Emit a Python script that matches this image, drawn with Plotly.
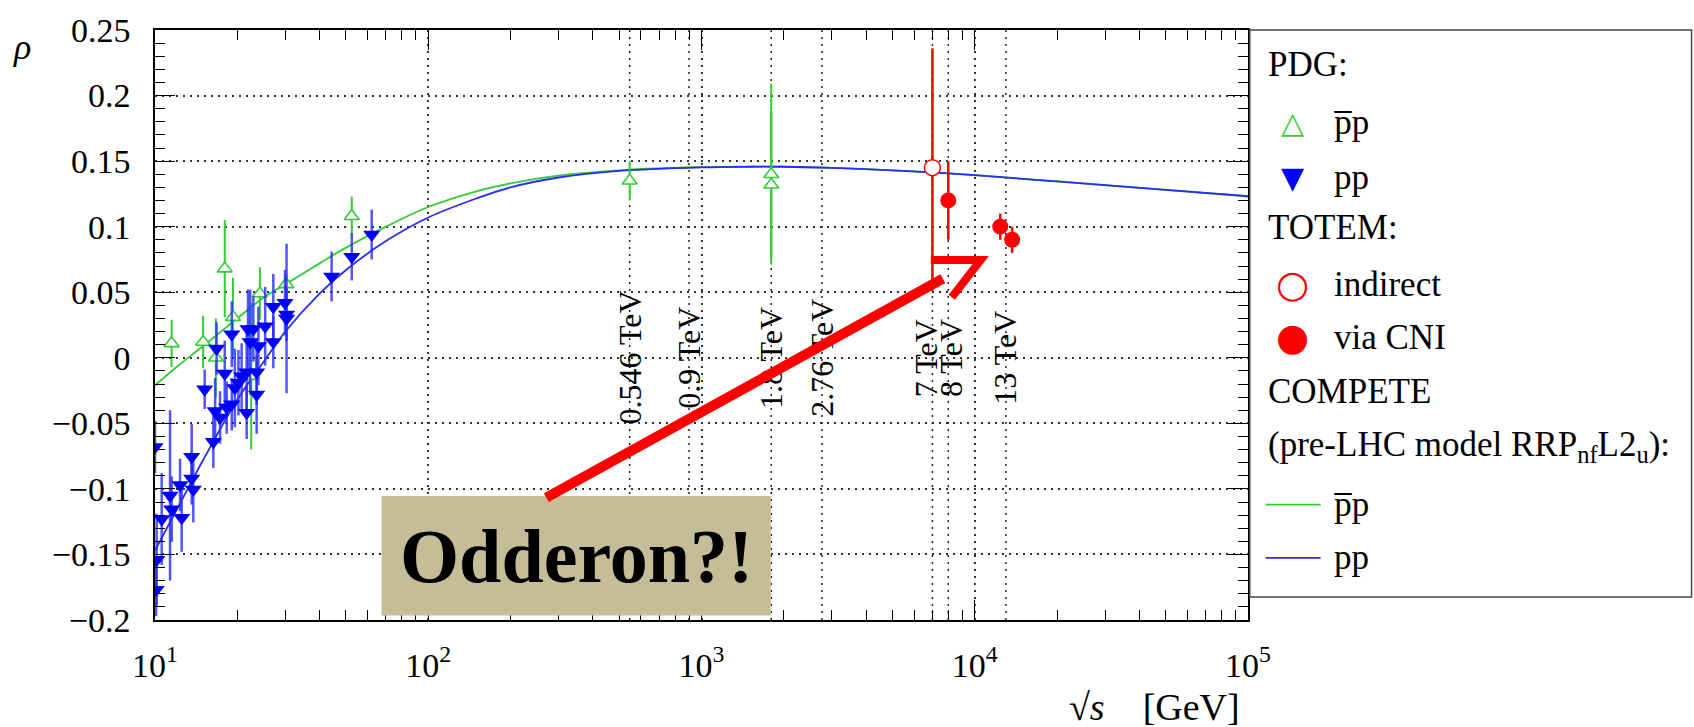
import math
import plotly.graph_objects as go

# ---------------- data ----------------
# PDG anti-proton/proton
PBARP_SQRTS = [11.5, 15.0, 16.7, 18.0, 19.3, 22.5, 24.2, 30.2, 52.5, 546, 1800, 1800]
PBARP_RHO = [0.011, 0.012, 0.000, 0.068, 0.031, -0.014, 0.049, 0.056, 0.108, 0.135, 0.140, 0.132]
PBARP_ERR = [0.018, 0.020, 0.030, 0.037, 0.030, 0.056, 0.020, 0.008, 0.015, 0.015, 0.069, 0.056]

# PDG proton/proton
PP_SQRTS = [10.0, 10.14, 10.09, 10.58, 11.35, 11.51, 12.35, 12.52, 13.62, 13.62, 13.81, 16.35,
            15.2, 16.8, 16.6, 17.3, 18.0, 18.3, 19.1, 19.1, 19.6, 20.2, 20.75, 21.65, 21.65,
            21.9, 22.3, 22.9, 23.55, 23.55, 23.9, 25.3, 27.1, 27.1, 29.9, 30.3, 30.3,
            44.3, 52.5, 62.1]
PP_RHO = [-0.068, -0.154, -0.177, -0.123, -0.105, -0.1155, -0.097, -0.122, -0.0755, -0.092, -0.1005, -0.064,
          -0.024, 0.007, -0.0405, -0.0455, -0.012, -0.038, 0.018, -0.0355, -0.023, -0.019, -0.014, -0.011, -0.042,
          0.022, 0.012, 0.022, -0.011, -0.028, 0.009, 0.024, 0.039, 0.012, 0.042, 0.033, 0.030,
          0.062, 0.077, 0.094]
PP_ERR = [0.020, 0.035, 0.020, 0.035, 0.065, 0.025, 0.020, 0.026, 0.025, 0.020, 0.025, 0.020,
          0.015, 0.020, 0.025, 0.020, 0.025, 0.020, 0.025, 0.020, 0.030, 0.025, 0.025, 0.030, 0.020,
          0.030, 0.040, 0.025, 0.025, 0.030, 0.030, 0.030, 0.025, 0.020, 0.025, 0.020, 0.057,
          0.019, 0.018, 0.019]

# TOTEM
TOTEM_IND_SQRTS = [7000]
TOTEM_IND_RHO = [0.145]
TOTEM_IND_ERR = [0.091]
TOTEM_CNI_SQRTS = [8000, 12400, 13700]
TOTEM_CNI_RHO = [0.12, 0.10, 0.09]
TOTEM_CNI_ERR = [0.03, 0.01, 0.01]

# COMPETE (pre-LHC model RRPnfL2u)
COMPETE_SQRTS = [10, 12, 15, 20, 25, 30, 40, 50, 70, 100, 150, 200, 300, 500, 1000, 1500, 2000,
                 3000, 5000, 7000, 10000, 20000, 50000, 100000]
COMPETE_PBARP_RHO = [-0.021, -0.007, 0.009, 0.030, 0.046, 0.056, 0.072, 0.084, 0.100, 0.115, 0.127,
                     0.133, 0.139, 0.143, 0.1455, 0.1458, 0.1457, 0.1449, 0.1430, 0.1414, 0.1393,
                     0.1345, 0.1280, 0.1232]
COMPETE_PP_RHO = [-0.147, -0.116, -0.078, -0.032, -0.003, 0.020, 0.049, 0.067, 0.089, 0.107, 0.1215,
                  0.130, 0.1375, 0.1425, 0.1452, 0.1457, 0.1457, 0.1449, 0.1430, 0.1414, 0.1393,
                  0.1345, 0.1280, 0.1232]

# LHC / Tevatron / SppS energies
ENERGY_LINES_GEV = [546, 900, 1800, 2760, 7000, 8000, 13000]
ENERGY_LABELS = ["0.546 TeV", "0.9 TeV", "1.8 TeV", "2.76 TeV", "7 TeV", "8 TeV", "13 TeV"]

Y_TICKS = [0.25, 0.2, 0.15, 0.1, 0.05, 0, -0.05, -0.1, -0.15, -0.2]
Y_TICK_TEXT = ["0.25", "0.2", "0.15", "0.1", "0.05", "0", "\u22120.05", "\u22120.1", "\u22120.15", "\u22120.2"]
X_TICKS = [10, 100, 1000, 10000, 100000]
X_TICK_TEXT = ["10<sup>1</sup>", "10<sup>2</sup>", "10<sup>3</sup>", "10<sup>4</sup>", "10<sup>5</sup>"]

# ---------------- styling ----------------
FONT = "Liberation Serif"
GREEN = "#33cc33"
BLUE = "#0000ff"
BLUE_LINE = "#2a2aff"
RED = "#ff0000"
Y_MIN, Y_MAX = -0.2, 0.25

fig = go.Figure()

# vertical energy lines (dotted)
vx, vy = [], []
for e in ENERGY_LINES_GEV:
    vx += [e, e, None]
    vy += [Y_MIN, Y_MAX, None]
fig.add_trace(go.Scatter(x=vx, y=vy, mode="lines",
                         line=dict(color="#222222", width=1.5, dash="2px,5px"),
                         hoverinfo="skip", showlegend=False))

# COMPETE curves
fig.add_trace(go.Scatter(x=COMPETE_SQRTS, y=COMPETE_PBARP_RHO, mode="lines",
                         line=dict(color=GREEN, width=1.8, shape="spline"), showlegend=False))
fig.add_trace(go.Scatter(x=COMPETE_SQRTS, y=COMPETE_PP_RHO, mode="lines",
                         line=dict(color=BLUE_LINE, width=1.8, shape="spline"), showlegend=False))

# PDG pbar p
fig.add_trace(go.Scatter(x=PBARP_SQRTS, y=PBARP_RHO, mode="markers",
                         error_y=dict(type="data", array=PBARP_ERR, color=GREEN, thickness=2, width=0),
                         marker=dict(symbol="triangle-up", size=13, color="white",
                                     line=dict(color=GREEN, width=1.6)),
                         showlegend=False))
# PDG pp
fig.add_trace(go.Scatter(x=PP_SQRTS, y=PP_RHO, mode="markers",
                         error_y=dict(type="data", array=PP_ERR, color="rgba(40,40,255,0.8)",
                                      thickness=2.5, width=0),
                         marker=dict(symbol="triangle-down", size=15, color=BLUE,
                                     line=dict(width=0)),
                         showlegend=False))
# TOTEM indirect
fig.add_trace(go.Scatter(x=TOTEM_IND_SQRTS, y=TOTEM_IND_RHO, mode="markers",
                         error_y=dict(type="data", array=TOTEM_IND_ERR, color=RED, thickness=2.5, width=0),
                         marker=dict(symbol="circle", size=16, color="white",
                                     line=dict(color=RED, width=1.5)),
                         showlegend=False))
# TOTEM via CNI
fig.add_trace(go.Scatter(x=TOTEM_CNI_SQRTS, y=TOTEM_CNI_RHO, mode="markers",
                         error_y=dict(type="data", array=TOTEM_CNI_ERR, color=RED, thickness=2.5, width=0),
                         marker=dict(symbol="circle", size=16, color=RED, line=dict(width=0)),
                         showlegend=False))

annotations = []
# energy labels (rotated)
label_shift = [0, 0, 0, 0, -7, 3, -1]
for e, lab, sh in zip(ENERGY_LINES_GEV, ENERGY_LABELS, label_shift):
    annotations.append(dict(x=math.log10(e), y=0, xref="x", yref="y", text=lab,
                            textangle=-90, showarrow=False, xshift=sh,
                            font=dict(family=FONT, size=32, color="black")))

# the big red arrow shaft (drawn as annotation so it sits above the labels)
annotations.append(dict(x=0.7208, y=0.5787, xref="paper", yref="paper", text="",
                        showarrow=True, arrowhead=0, arrowwidth=10, arrowcolor=RED,
                        ax=-398, ay=220, axref="pixel", ayref="pixel", standoff=0,
                        startstandoff=0))

# Odderon text
annotations.append(dict(x=0.3853, y=0.1087, xref="paper", yref="paper",
                        text="<b>Odderon?!</b>", showarrow=False,
                        xanchor="center", yanchor="middle",
                        font=dict(family=FONT, size=76, color="black")))

# axis titles
annotations.append(dict(x=-0.1217, y=0.9717, xref="paper", yref="paper", text="<i>\u03c1</i>",
                        showarrow=False, xanchor="center", yanchor="middle",
                        font=dict(family=FONT, size=36, color="black")))
annotations.append(dict(x=0.9942, y=-0.1474, xref="paper", yref="paper",
                        text="\u221a<i>s</i>\u00a0\u00a0\u00a0\u00a0[GeV]",
                        showarrow=False, xanchor="right", yanchor="middle",
                        font=dict(family=FONT, size=38, color="black")))

# legend (manual, ROOT style)
LX_HEAD, LX_SYM, LX_TXT = 1.0168, 1.0409, 1.0772
rows_y = [0.9422, 0.8434, 0.7508, 0.6646, 0.5688, 0.4796, 0.3872, 0.2944, 0.1957, 0.1052]
legend_font = dict(family=FONT, size=35, color="black")
heads = [(0, "PDG:"), (3, "TOTEM:"), (6, "COMPETE"),
         (7, "(pre-LHC model RRP<sub>nf</sub>L2<sub>u</sub>):")]
for i, t in heads:
    annotations.append(dict(x=LX_HEAD, y=rows_y[i], xref="paper", yref="paper", text=t,
                            showarrow=False, xanchor="left", yanchor="middle", font=legend_font))
items = [(1, "p\u0305p"), (2, "pp"), (4, "indirect"), (5, "via CNI"), (8, "p\u0305p"), (9, "pp")]
for i, t in items:
    annotations.append(dict(x=LX_TXT, y=rows_y[i], xref="paper", yref="paper", text=t,
                            showarrow=False, xanchor="left", yanchor="middle", font=legend_font))
syms = [(1, "\u25b3", GREEN, 30), (2, "\u25bc", BLUE, 30), (4, "\u25cb", RED, 38), (5, "\u25cf", RED, 38)]
for i, g, c, s in syms:
    annotations.append(dict(x=LX_SYM, y=rows_y[i], xref="paper", yref="paper", text=g,
                            showarrow=False, xanchor="center", yanchor="middle",
                            font=dict(family="DejaVu Sans", size=s, color=c)))

shapes = [
    # Odderon box
    dict(type="rect", xref="paper", yref="paper", x0=0.2073, x1=0.5634, y0=0.0075, y1=0.2102,
         fillcolor="#c5bc98", line=dict(width=0), layer="above"),
    # arrow head
    dict(type="path", xref="paper", yref="paper",
         path="M 0.7098 0.6103 L 0.7555 0.6103 L 0.7290 0.5470",
         line=dict(color=RED, width=8), layer="above"),
    # legend frame
    dict(type="rect", xref="paper", yref="paper", x0=1.0016, x1=1.4058, y0=0.0391, y1=1.0,
         line=dict(color="#444444", width=1.5), layer="above"),
    # legend line samples
    dict(type="line", xref="paper", yref="paper", x0=1.0162, x1=1.0665, y0=rows_y[8], y1=rows_y[8],
         line=dict(color=GREEN, width=1.8)),
    dict(type="line", xref="paper", yref="paper", x0=1.0162, x1=1.0665, y0=rows_y[9], y1=rows_y[9],
         line=dict(color=BLUE_LINE, width=1.8)),
]

x_minor = [m * 10 ** k for k in range(1, 5) for m in range(2, 10)]

fig.update_layout(
    width=1694, height=727,
    margin=dict(l=155, r=446, t=19, b=107, pad=0),
    paper_bgcolor="white", plot_bgcolor="white",
    font=dict(family=FONT, color="black"),
    showlegend=False,
    annotations=annotations,
    shapes=shapes,
    xaxis=dict(type="log", range=[1, 5], tickmode="array", tickvals=X_TICKS, ticktext=X_TICK_TEXT,
               ticks="inside", ticklen=20, tickwidth=1.2, tickcolor="black",
               showline=True, linecolor="black", linewidth=1.5, mirror="allticks",
               showgrid=True, gridcolor="#333333", griddash="2px,5px", gridwidth=1.5,
               zeroline=False, tickfont=dict(family=FONT, size=34, color="black"),
               ticklabelstandoff=14,
               minor=dict(tickmode="array", tickvals=x_minor, ticks="inside", ticklen=10,
                          tickwidth=1.2, tickcolor="black", showgrid=False)),
    yaxis=dict(range=[Y_MIN, Y_MAX], tickmode="array", tickvals=Y_TICKS, ticktext=Y_TICK_TEXT,
               ticks="inside", ticklen=20, tickwidth=1.2, tickcolor="black",
               showline=True, linecolor="black", linewidth=1.5, mirror="allticks",
               showgrid=True, gridcolor="#333333", griddash="2px,5px", gridwidth=1.5,
               zeroline=False, tickfont=dict(family=FONT, size=34, color="black"),
               ticklabelstandoff=16,
               minor=dict(dtick=0.01, tick0=0, ticks="inside", ticklen=10, tickwidth=1.2,
                          tickcolor="black", showgrid=False)),
)

fig.write_html("out.html")
